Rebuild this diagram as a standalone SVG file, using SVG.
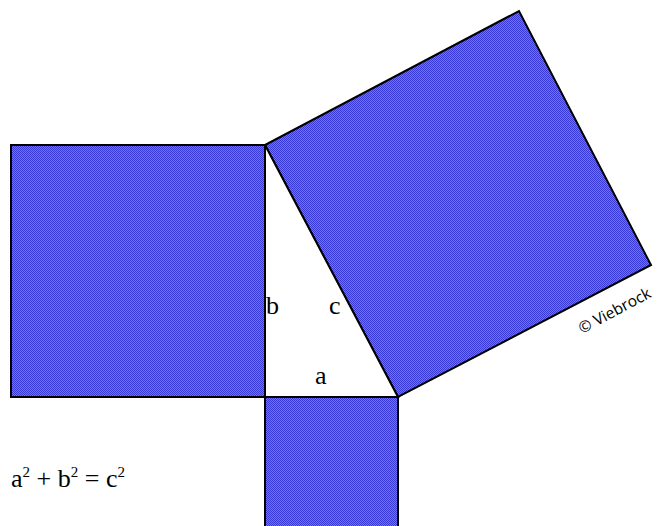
<svg xmlns="http://www.w3.org/2000/svg" width="657" height="526" viewBox="0 0 657 526">
<defs>
<pattern id="chk" width="2" height="2" patternUnits="userSpaceOnUse">
<rect width="2" height="2" fill="#7070ff"/>
<rect width="1" height="1" fill="#3a3ad8"/>
<rect x="1" y="1" width="1" height="1" fill="#3a3ad8"/>
</pattern>
<style>
.sq{fill:url(#chk);stroke:#000;stroke-width:2;stroke-linejoin:miter}
</style>
</defs>
<rect width="657" height="526" fill="#fff"/>
<g id="square-b"><rect class="sq" x="11" y="145" width="254" height="252"/></g>
<g id="square-a"><rect class="sq" x="265" y="397" width="133" height="134"/></g>
<g id="square-c"><polygon class="sq" points="265,145 398,397 651,265 519,11"/></g>
<g id="triangle"><polygon points="265,145 265,397 398,397" fill="#fff" stroke="#000" stroke-width="2"/></g>
<g id="labels" font-family="'Liberation Serif', 'Times New Roman', serif" font-size="26" fill="#000">
<text x="266" y="314">b</text>
<text x="329" y="314">c</text>
<text x="315" y="384">a</text>
<text x="11" y="487">a<tspan font-size="15" dy="-10">2</tspan><tspan dy="10"> + b</tspan><tspan font-size="15" dy="-10">2</tspan><tspan dy="10"> = c</tspan><tspan font-size="15" dy="-10">2</tspan></text>
<text font-family="'Open Sans', 'DejaVu Sans', sans-serif" font-size="15.5" transform="translate(582,334) rotate(-28)">© Viebrock</text>
</g>
</svg>
